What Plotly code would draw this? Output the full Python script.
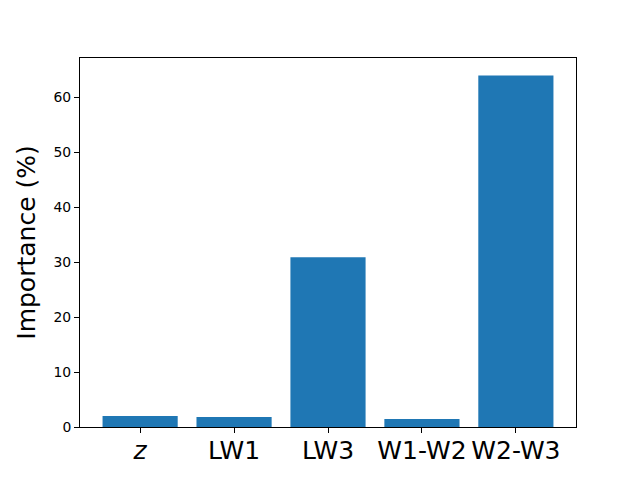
import plotly.graph_objects as go

features = ["<i>z</i>", "LW1", "LW3", "W1-W2", "W2-W3"]
importance = [2.0, 1.8, 30.9, 1.45, 64.0]

fig = go.Figure()
fig.add_trace(go.Bar(
    x=list(range(len(features))),
    y=importance,
    width=0.8,
    marker=dict(color="#1f77b4", line=dict(width=0)),
))

axis_common = dict(
    showline=True, linecolor="black", linewidth=1, mirror=True,
    ticks="outside", ticklen=5, tickwidth=1, tickcolor="black",
    showgrid=False, zeroline=False,
)

# the html page has an 8px body margin, so margins are shifted by it
fig.update_layout(
    width=640, height=480,
    margin=dict(l=72, r=72, t=50, b=61),
    plot_bgcolor="white", paper_bgcolor="white",
    font=dict(family="DejaVu Sans", color="black"),
    showlegend=False,
    xaxis=dict(
        axis_common,
        range=[-0.64, 4.64],
        tickmode="array",
        tickvals=list(range(len(features))),
        ticktext=features,
        tickfont=dict(size=25),
        ticklabelstandoff=-4,
    ),
    yaxis=dict(
        axis_common,
        range=[0, 67.2],
        tickvals=[0, 10, 20, 30, 40, 50, 60],
        tickfont=dict(size=13.9),
        title=dict(text="Importance (%)", font=dict(size=25), standoff=10),
    ),
)

fig.write_html("out.html")
